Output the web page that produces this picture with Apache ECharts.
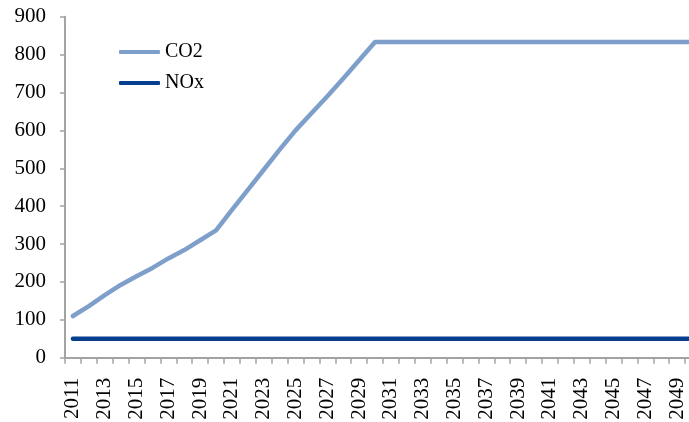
<!DOCTYPE html>
<html>
<head>
<meta charset="utf-8">
<script src="https://cdn.jsdelivr.net/npm/echarts@6/dist/echarts.min.js"></script>
<style>
  html, body { margin: 0; padding: 0; background: #ffffff; }
  #chart { width: 689px; height: 422px; }
</style>
</head>
<body>
<div id="chart"></div>
<script>
// Years on the category axis
const years = [];
for (let y = 2011; y <= 2050; y++) years.push(String(y));

// Emission series
const co2 = [110, 136, 165, 192, 215, 237, 262, 284, 310, 336,
             390, 443, 496, 549, 600, 645, 690, 737, 785, 833,
             833, 833, 833, 833, 833, 833, 833, 833, 833, 833,
             833, 833, 833, 833, 833, 833, 833, 833, 833, 833];
const nox = [50, 50, 50, 50, 50, 50, 50, 50, 50, 50,
             50, 50, 50, 50, 50, 50, 50, 50, 50, 50,
             50, 50, 50, 50, 50, 50, 50, 50, 50, 50,
             50, 50, 50, 50, 50, 50, 50, 50, 50, 50];

const fontFamily = '"Liberation Serif", "Times New Roman", serif';
const axisColor = '#a3a3a3';

const chart = echarts.init(document.getElementById('chart'), null, { renderer: 'canvas' });
chart.setOption({
  animation: false,
  backgroundColor: '#ffffff',
  // the plot runs on past the right edge of the canvas
  grid: { left: 65, width: 636, top: 16.7, bottom: 64.3, containLabel: false, outerBoundsMode: 'none' },
  legend: {
    orient: 'vertical',
    left: 119,
    top: 42,
    padding: 0,
    itemWidth: 41,
    itemHeight: 4,
    itemGap: 11,
    icon: 'roundRect',
    textStyle: { fontFamily: fontFamily, fontSize: 20, color: '#000000' },
    data: ['CO2', 'NOx']
  },
  xAxis: {
    type: 'category',
    data: years,
    boundaryGap: true,
    axisLine: { lineStyle: { color: axisColor, width: 2 } },
    axisTick: { show: true, interval: 0, length: 6, lineStyle: { color: axisColor, width: 1.5 } },
    axisLabel: {
      interval: 1,
      rotate: 90,
      margin: 20,
      fontFamily: fontFamily,
      fontSize: 21,
      color: '#000000'
    },
    splitLine: { show: false }
  },
  yAxis: {
    type: 'value',
    min: 0,
    max: 900,
    interval: 100,
    axisLine: { show: true, lineStyle: { color: axisColor, width: 2 } },
    axisTick: { show: true, length: 5, lineStyle: { color: axisColor, width: 1.5 } },
    axisLabel: { margin: 19, fontFamily: fontFamily, fontSize: 21, color: '#000000' },
    splitLine: { show: false }
  },
  series: [
    {
      name: 'CO2',
      type: 'line',
      data: co2,
      showSymbol: false,
      symbol: 'none',
      color: '#7f9fcb',
      lineStyle: { width: 4.5, color: '#7f9fcb', cap: 'round', join: 'round' }
    },
    {
      name: 'NOx',
      type: 'line',
      data: nox,
      showSymbol: false,
      symbol: 'none',
      color: '#063f8e',
      lineStyle: { width: 4.5, color: '#063f8e', cap: 'round', join: 'round' }
    }
  ]
});
</script>
</body>
</html>
